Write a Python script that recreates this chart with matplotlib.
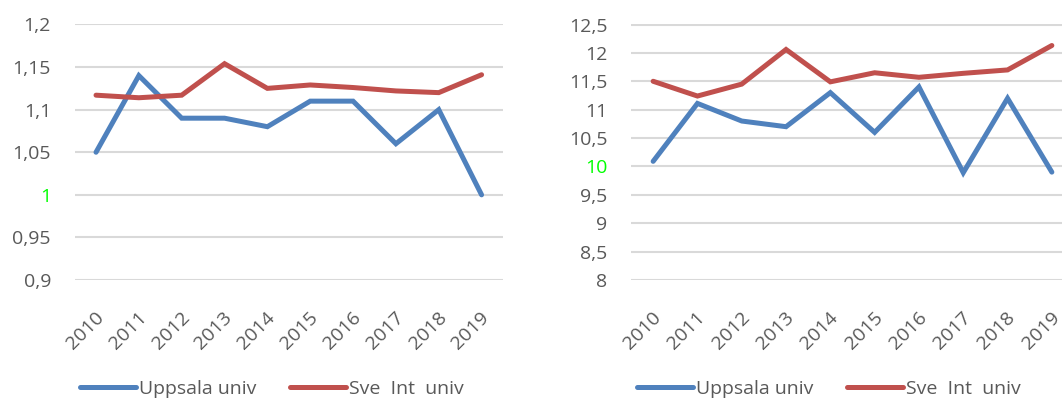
import matplotlib
matplotlib.use("Agg")
import matplotlib.pyplot as plt
from matplotlib.ticker import FixedLocator, FuncFormatter
from matplotlib.transforms import ScaledTranslation

years = ["2010", "2011", "2012", "2013", "2014", "2015", "2016", "2017", "2018", "2019"]
left_uppsala = [1.05, 1.14, 1.09, 1.09, 1.08, 1.11, 1.11, 1.06, 1.10, 1.00]
left_sve = [1.117, 1.114, 1.117, 1.154, 1.125, 1.129, 1.126, 1.122, 1.120, 1.141]
right_uppsala = [10.09, 11.11, 10.80, 10.70, 11.30, 10.60, 11.40, 9.89, 11.20, 9.90]
right_sve = [11.50, 11.24, 11.45, 12.06, 11.49, 11.65, 11.57, 11.64, 11.70, 12.13]
left_ticks = [0.9, 0.95, 1.0, 1.05, 1.1, 1.15, 1.2]
right_ticks = [8, 8.5, 9, 9.5, 10, 10.5, 11, 11.5, 12, 12.5]
series_names = ["Uppsala univ", "Sve  Int  univ"]

plt.rcParams['font.family'] = ['Open Sans', 'DejaVu Sans']

BLUE = "#4F81BD"
RED = "#C0504D"
GRID = "#D9D9D9"
TXT = "#595959"
GREEN = "#00FF00"

fig = plt.figure(figsize=(10.62, 4.0), dpi=100)

def fmt(v, _=None):
    return ("%g" % round(v, 3)).replace(".", ",")

def make(ax, up, sve, ticks, green_val, legend_cx):
    x = list(range(len(years)))
    l1, = ax.plot(x, up, color=BLUE, lw=3.6, solid_capstyle='round', solid_joinstyle='miter', zorder=3)
    l2, = ax.plot(x, sve, color=RED, lw=3.6, solid_capstyle='round', solid_joinstyle='miter', zorder=3)
    ax.set_xlim(-0.5, len(years) - 0.5)
    ax.set_ylim(ticks[0], ticks[-1])
    ax.yaxis.set_major_locator(FixedLocator(ticks))
    ax.yaxis.set_major_formatter(FuncFormatter(fmt))
    ax.set_xticks(x)
    ax.set_xticklabels(years, rotation=45, ha='right', va='center', rotation_mode='anchor')
    for sp in ax.spines.values():
        sp.set_visible(False)
    ax.grid(axis='y', color=GRID, lw=1.5, zorder=0)
    ax.tick_params(axis='y', length=0, pad=17, labelsize=14, labelcolor=TXT)
    ax.tick_params(axis='x', length=0, pad=25, labelsize=14, labelcolor=TXT)
    for lab, t in zip(ax.get_yticklabels(), ticks):
        if abs(t - green_val) < 1e-9:
            lab.set_color(GREEN)
    for lab in ax.get_xticklabels():
        lab.set_transform(lab.get_transform() + ScaledTranslation(5/100, 0, fig.dpi_scale_trans))
    ax.set_axisbelow(True)
    ax.legend([l1, l2], series_names, loc='center', bbox_to_anchor=(legend_cx, 0.028),
              bbox_transform=fig.transFigure, ncol=2, frameon=False, fontsize=14,
              handlelength=2.9, handletextpad=0.15, columnspacing=1.7,
              labelcolor=TXT)

ax1 = fig.add_axes([74.6/1062, 1 - 280/400, (503 - 74.6)/1062, (280 - 24.5)/400])
make(ax1, left_uppsala, left_sve, left_ticks, 1.0, 272/1062)
ax2 = fig.add_axes([631/1062, 1 - 280/400, (1074 - 631)/1062, (280 - 24.5)/400])
make(ax2, right_uppsala, right_sve, right_ticks, 10.0, 829/1062)

fig.savefig("out.png", dpi=100)
